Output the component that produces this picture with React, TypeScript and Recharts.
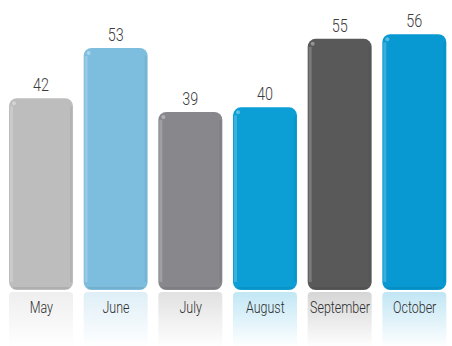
import { BarChart, Bar, XAxis, YAxis, Cell, LabelList } from 'recharts';

const months = ['May', 'June', 'July', 'August', 'September', 'October'];
const visits = [42, 53, 39, 40, 55, 56];
const palette = ['#bdbdbd', '#7dbddd', '#88878c', '#0b9fd6', '#595959', '#0899d2'];

const chartData = months.map((month, i) => ({ month, value: visits[i] }));

const FONT = 'Roboto, sans-serif';

// glossy rounded bar plus a faded reflection under the baseline
const GlossyBar = (props: any) => {
  const { x, y, width, height, fill, index } = props;
  const r = 8;
  const gid = `refl-${index}`;
  const base = y + height;
  return (
    <g>
      <defs>
        <linearGradient id={gid} x1="0" y1="0" x2="0" y2="1">
          <stop offset="0%" stopColor={fill} stopOpacity={0.25} />
          <stop offset="100%" stopColor={fill} stopOpacity={0} />
        </linearGradient>
      </defs>
      <rect x={x} y={base + 2} width={width} height={56} rx={4} fill={`url(#${gid})`} />
      <rect x={x} y={y} width={width} height={height} rx={r} ry={r} fill={fill} />
      <rect x={x + 1} y={y + r} width={3} height={height - 2 * r} fill="#ffffff" opacity={0.2} />
      <rect x={x + width - 3} y={y + r} width={2} height={height - 2 * r} fill="#000000" opacity={0.05} />
      <circle cx={x + 5} cy={y + 5} r={2} fill="#ffffff" opacity={0.35} />
      <rect x={x + 4} y={base - 3} width={width - 8} height={2} fill="#000000" opacity={0.07} />
    </g>
  );
};

// condensed-looking text: squeeze horizontally around the anchor point
const MonthTick = (props: any) => {
  const { x, y, payload } = props;
  return (
    <g transform={`translate(${x},${y + 17}) scale(0.78,1)`}>
      <text textAnchor="middle" fill="#2e2e2e" fontSize={16} fontWeight={300} fontFamily={FONT}>
        {payload.value}
      </text>
    </g>
  );
};

const ValueLabel = (props: any) => {
  const { x, y, width, value } = props;
  return (
    <g transform={`translate(${x + width / 2},${y - 7}) scale(0.8,1)`}>
      <text textAnchor="middle" fill="#3c3c3c" fontSize={18} fontWeight={300} fontFamily={FONT}>
        {value}
      </text>
    </g>
  );
};

export default function App() {
  return (
    <div style={{ position: 'absolute', left: 0, top: 0, background: '#ffffff' }}>
      <BarChart
        width={452}
        height={346}
        data={chartData}
        margin={{ top: 16, right: 0, left: 4, bottom: 0 }}
      >
        <XAxis
          dataKey="month"
          axisLine={false}
          tickLine={false}
          height={56}
          tickMargin={0}
          interval={0}
          tick={<MonthTick />}
        />
        <YAxis hide domain={[0, 60]} />
        <Bar dataKey="value" barSize={64} shape={GlossyBar} isAnimationActive={false}>
          {chartData.map((d, i) => (
            <Cell key={d.month} fill={palette[i]} />
          ))}
          <LabelList dataKey="value" content={<ValueLabel />} />
        </Bar>
      </BarChart>
    </div>
  );
}
